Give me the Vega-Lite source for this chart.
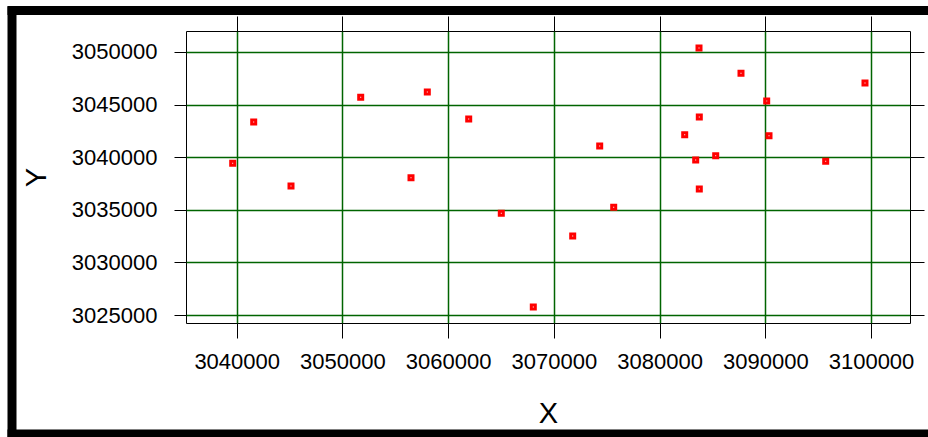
{
  "$schema": "https://vega.github.io/schema/vega-lite/v6.json",
  "width": 724,
  "height": 292,
  "autosize": {"type": "none"},
  "padding": {"left": 186, "top": 31, "right": 18, "bottom": 114},
  "background": "white",
  "config": {
    "font": "Liberation Sans",
    "view": {"stroke": "#000", "strokeWidth": 1}
  },
  "data": {
    "values": [
      {"X": 3039622, "Y": 3039420},
      {"X": 3041608, "Y": 3043346},
      {"X": 3045136, "Y": 3037262},
      {"X": 3051729, "Y": 3045694},
      {"X": 3056487, "Y": 3038051},
      {"X": 3058029, "Y": 3046198},
      {"X": 3061945, "Y": 3043631},
      {"X": 3065028, "Y": 3034667},
      {"X": 3068055, "Y": 3025760},
      {"X": 3071782, "Y": 3032510},
      {"X": 3074336, "Y": 3041065},
      {"X": 3075660, "Y": 3035237},
      {"X": 3082376, "Y": 3042139},
      {"X": 3083416, "Y": 3039734},
      {"X": 3083729, "Y": 3050380},
      {"X": 3083757, "Y": 3036977},
      {"X": 3083757, "Y": 3043821},
      {"X": 3085308, "Y": 3040143},
      {"X": 3087701, "Y": 3047975},
      {"X": 3090132, "Y": 3045342},
      {"X": 3090350, "Y": 3042044},
      {"X": 3095713, "Y": 3039610},
      {"X": 3099430, "Y": 3047053}
    ]
  },
  "layer": [
    {
      "mark": {"type": "point", "shape": "square", "filled": false, "stroke": "#ff0000", "strokeWidth": 3, "size": 16, "opacity": 1},
      "encoding": {
        "x": {
          "field": "X", "type": "quantitative",
          "scale": {"domain": [3035204, 3103687], "nice": false, "zero": false},
          "axis": {
            "orient": "bottom", "title": "X", "values": [3040000, 3050000, 3060000, 3070000, 3080000, 3090000, 3100000],
            "format": "d", "domain": false, "grid": true, "gridColor": "#006400", "gridWidth": 1.5, "gridOpacity": 1,
            "ticks": true, "tickSize": 15, "tickColor": "#000", "tickWidth": 1,
            "labelFontSize": 22, "labelColor": "#000", "labelPadding": 13, "labelFlush": false, "labelOverlap": false,
            "titleFontSize": 29, "titleFontWeight": "normal", "titleColor": "#000", "titlePadding": 27
          }
        },
        "y": {
          "field": "Y", "type": "quantitative",
          "scale": {"domain": [3024240, 3051996], "nice": false, "zero": false},
          "axis": {
            "orient": "left", "title": "Y", "values": [3025000, 3030000, 3035000, 3040000, 3045000, 3050000],
            "format": "d", "domain": false, "grid": true, "gridColor": "#006400", "gridWidth": 1.5, "gridOpacity": 1,
            "ticks": true, "tickSize": 12, "tickColor": "#000", "tickWidth": 1,
            "labelFontSize": 22, "labelColor": "#000", "labelPadding": 17, "labelFlush": false, "labelOverlap": false,
            "titleFontSize": 29, "titleFontWeight": "normal", "titleColor": "#000", "titlePadding": 20
          }
        }
      }
    },
    {
      "mark": {"type": "point", "opacity": 0},
      "encoding": {
        "x": {
          "field": "X", "type": "quantitative",
          "scale": {"domain": [3035204, 3103687], "nice": false, "zero": false},
          "axis": {
            "orient": "top", "title": null, "values": [3040000, 3050000, 3060000, 3070000, 3080000, 3090000, 3100000],
            "domain": false, "grid": false, "labels": false, "ticks": true, "tickSize": 15, "tickColor": "#000", "tickWidth": 1
          }
        },
        "y": {
          "field": "Y", "type": "quantitative",
          "scale": {"domain": [3024240, 3051996], "nice": false, "zero": false},
          "axis": {
            "orient": "right", "title": null, "values": [3025000, 3030000, 3035000, 3040000, 3045000, 3050000],
            "domain": false, "grid": false, "labels": false, "ticks": true, "tickSize": 14, "tickColor": "#000", "tickWidth": 1
          }
        }
      }
    },
    {
      "mark": {"type": "point", "opacity": 0},
      "encoding": {
        "x": {
          "datum": 0, "type": "quantitative",
          "scale": {"domain": [0, 1], "range": [-179, 745], "nice": false, "zero": false},
          "axis": {"orient": "top", "offset": 21, "title": null, "domain": true, "domainColor": "#000", "domainWidth": 9, "ticks": false, "labels": false, "grid": false}
        },
        "y": {
          "datum": 0, "type": "quantitative",
          "scale": {"domain": [0, 1], "range": [406, -25], "nice": false, "zero": false},
          "axis": {"orient": "left", "offset": 174.5, "title": null, "domain": true, "domainColor": "#000", "domainWidth": 9, "ticks": false, "labels": false, "grid": false}
        }
      }
    },
    {
      "mark": {"type": "point", "opacity": 0},
      "encoding": {
        "x": {
          "datum": 0, "type": "quantitative",
          "scale": {"domain": [0, 1], "range": [-179, 745], "nice": false, "zero": false},
          "axis": {"orient": "bottom", "offset": 110.5, "title": null, "domain": true, "domainColor": "#000", "domainWidth": 9, "ticks": false, "labels": false, "grid": false}
        },
        "y": {
          "datum": 0, "type": "quantitative",
          "scale": {"domain": [0, 1], "nice": false, "zero": false},
          "axis": null
        }
      }
    }
  ],
  "resolve": {
    "scale": {"x": "independent", "y": "independent"},
    "axis": {"x": "independent", "y": "independent"}
  }
}
